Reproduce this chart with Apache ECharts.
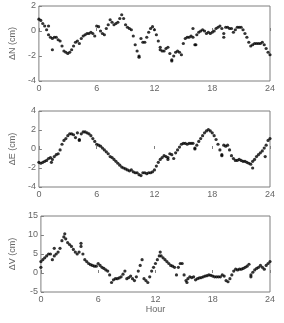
<!DOCTYPE html>
<html>
<head>
<meta charset="utf-8">
<script src="https://cdn.jsdelivr.net/npm/echarts@6/dist/echarts.min.js"></script>
<style>
  html, body { margin: 0; padding: 0; background: #fff; }
  #chart { width: 284px; height: 323px; }
</style>
</head>
<body>
<div id="chart"></div>
<script>
// samples every 0.2 hour, 0..24
const step = 0.2;
const dN = [
  0.95, 0.85, 0.6, 0.4, 0.1, -0.3, -0.5, -0.6, -0.5, -0.5,
  -0.7, -0.8, -1.2, -1.6, -1.7, -1.8, -1.7, -1.5, -1.2, -0.9,
  -0.8, -1.0, -0.6, -0.4, -0.3, -0.2, -0.2, -0.1, -0.2, -0.4,
  0.4, 0.35, 0.0, -0.2, -0.3, 0.2, 0.5, 0.9, 0.7, 0.5,
  0.6, 0.7, 1.0, 1.3, 1.0, 0.5, 0.3, 0.2, 0.1, -0.4,
  -1.1, -1.6, -2.0, -0.6, -0.9, -0.9, -0.5, -0.1, 0.2, 0.35,
  0.1, -0.3, -0.8, -1.3, -1.6, -1.6, -1.4, -1.3, -1.8, -2.3,
  -2.0, -1.7, -1.6, -1.7, -1.9, -1.0, -0.6, -0.5, -0.5, -0.4,
  -0.5, -1.1, -0.3, -0.1, 0.0, 0.1, 0.0, -0.2, -0.1, -0.2,
  -0.1, 0.0, 0.2, 0.3, 0.4, 0.2, -0.2, 0.3, 0.3, 0.2,
  0.2, -0.1, 0.1, 0.3, 0.3, 0.3, 0.1, -0.2, -0.5, -0.9,
  -1.2, -1.1, -1.0, -1.0, -1.0, -1.0, -0.9, -1.1, -1.4, -1.7,
  -1.9
];
const dE = [
  -1.4, -1.5, -1.4, -1.3, -1.2, -1.0, -0.9, -1.1, -0.8, -0.6,
  -0.5, -0.1, 0.5, 0.9, 1.1, 1.4, 1.6, 1.6, 1.5, 1.2,
  1.7, 1.0, 1.6, 1.8, 1.8, 1.7, 1.6, 1.4, 1.1, 0.8,
  0.5, 0.4, 0.3, 0.1, -0.1, -0.3, -0.5, -0.8, -0.9, -1.1,
  -1.3, -1.5, -1.7, -1.9, -2.0, -2.1, -2.2, -2.3, -2.2, -2.4,
  -2.5, -2.5, -2.7, -2.8, -2.5, -2.5, -2.6, -2.5, -2.5, -2.4,
  -2.2, -1.8, -1.4, -1.1, -0.9, -0.7, -0.8, -0.9, -0.5, -0.6,
  -1.0, -0.4, -0.1, 0.2, 0.5, 0.6, 0.6, 0.5, 0.6, 0.6,
  0.6, 0.1, 0.4, 0.8, 1.1, 1.4, 1.7, 1.9, 2.05, 1.9,
  1.7, 1.4, 1.0, 0.5, -0.1, -0.6, 0.4, 0.3, 0.4, -0.1,
  -0.7, -1.0, -1.2, -1.2, -1.1, -1.2, -1.3, -1.3, -1.4, -1.5,
  -1.6, -1.3, -1.1, -0.8, -0.6, -0.4, -0.2, 0.1, 0.4, 0.9,
  1.1
];
const dV = [
  3.0, 3.5, 4.0, 4.5, 5.0, 5.0, 3.5, 4.5, 5.0, 5.5,
  6.5, 8.5, 9.5, 9.0, 8.0, 7.5, 7.0, 6.2, 5.5, 5.0,
  5.5, 7.0, 5.0, 3.5, 3.0, 2.5, 2.2, 2.0, 1.8, 1.8,
  2.5, 2.0, 1.5, 1.2, 0.8, 0.5, -0.5, -2.5, -1.8, -1.5,
  -1.5, -1.3, -1.0, -0.3, 0.5, -1.5, -1.2, -0.8, -1.5, -2.0,
  -1.0, 0.5, 2.0, 3.5, -1.5, -2.0, -2.5, -1.0, 0.5, 1.5,
  2.5, 3.5, 4.5, 4.5, 4.0, 3.5, 3.0, 2.5, 2.0, 1.8,
  1.5, -0.5, 1.5, 2.5, 2.5, -0.5, -2.0, -1.5, -1.0, -1.2,
  -1.0, -1.8, -1.5, -1.3, -1.2, -1.0, -0.8, -0.7, -0.5, -0.6,
  -0.8, -1.0, -1.0, -1.0, -1.0, -0.5, -0.8, -2.0, -2.3, -1.5,
  -0.5, 0.5, 1.0, 0.8, 1.0, 1.0, 1.2, 1.5, 1.8, 2.3,
  -0.5, 0.2, 0.8, 1.2, 1.5, 2.0, 1.5, 1.0, 2.0, 2.5,
  3.0
];
// scattered extra epochs [hour, value]
const extraN = [[1.0, 0.4], [1.4, -1.5], [16.0, 0.2], [16.3, -1.1], [19.2, -0.5], [12.6, -1.5], [13.8, -2.4], [10.4, -2.1]];
const extraE = [[22.2, -2.0], [23.5, -0.8], [19.0, -0.7], [4.2, 0.9], [1.3, -1.4], [16.2, 0.0], [13.4, -1.1]];
const extraV = [[0, 1.5], [1.4, 6.5], [12.5, 5.5], [4.2, 7.8], [2.5, 10.3], [15.3, -2.5], [22.0, -1.0]];

const yNames = ['\u0394N (cm)', '\u0394E (cm)', '\u0394V (cm)'];
const yRanges = [[-4, 2, 2], [-4, 4, 2], [-5, 15, 5]];

const pairs = (arr) => arr.map((v, i) => [+(i * step).toFixed(1), v]);

const gray = '#7f7f7f';
const txt = { color: '#666', fontSize: 9, fontFamily: 'Arial, Liberation Sans, sans-serif' };
const grids = [
  { left: 28, width: 242, top: 6, height: 75 },
  { left: 28, width: 242, top: 111, height: 76 },
  { left: 28, width: 242, top: 216, height: 76 }
].map(g => Object.assign(g, { show: true, borderColor: gray, borderWidth: 1, backgroundColor: '#fff' }));

const xAxes = grids.map((g, i) => ({
  type: 'value', gridIndex: i, min: 0, max: 24, interval: 6,
  name: i === 2 ? 'Hour' : '', nameLocation: 'middle', nameGap: 13,
  nameTextStyle: txt,
  axisLine: { show: false },
  axisTick: { inside: true, length: 3, lineStyle: { color: gray } },
  axisLabel: Object.assign({ margin: 3 }, txt),
  splitLine: { show: false }
}));
const yAxes = grids.map((g, i) => ({
  type: 'value', gridIndex: i, min: yRanges[i][0], max: yRanges[i][1], interval: yRanges[i][2],
  name: yNames[i], nameLocation: 'middle', nameGap: 19, nameRotate: 90,
  nameTextStyle: txt,
  axisLine: { show: false },
  axisTick: { inside: true, length: 3, lineStyle: { color: gray } },
  axisLabel: Object.assign({ margin: 3 }, txt),
  splitLine: { show: false }
}));

const dot = { type: 'scatter', symbol: 'circle', symbolSize: 3.2, itemStyle: { color: '#000' }, silent: true };
const series = [];
[dN, dE, dV].forEach((arr, i) => {
  series.push(Object.assign({}, dot, { xAxisIndex: i, yAxisIndex: i, data: pairs(arr) }));
});
[extraN, extraE, extraV].forEach((arr, i) => {
  series.push(Object.assign({}, dot, { xAxisIndex: i, yAxisIndex: i, data: arr }));
});

const chart = echarts.init(document.getElementById('chart'));
chart.setOption({
  animation: false,
  backgroundColor: '#fff',
  grid: grids,
  xAxis: xAxes,
  yAxis: yAxes,
  series: series
});
</script>
</body>
</html>
